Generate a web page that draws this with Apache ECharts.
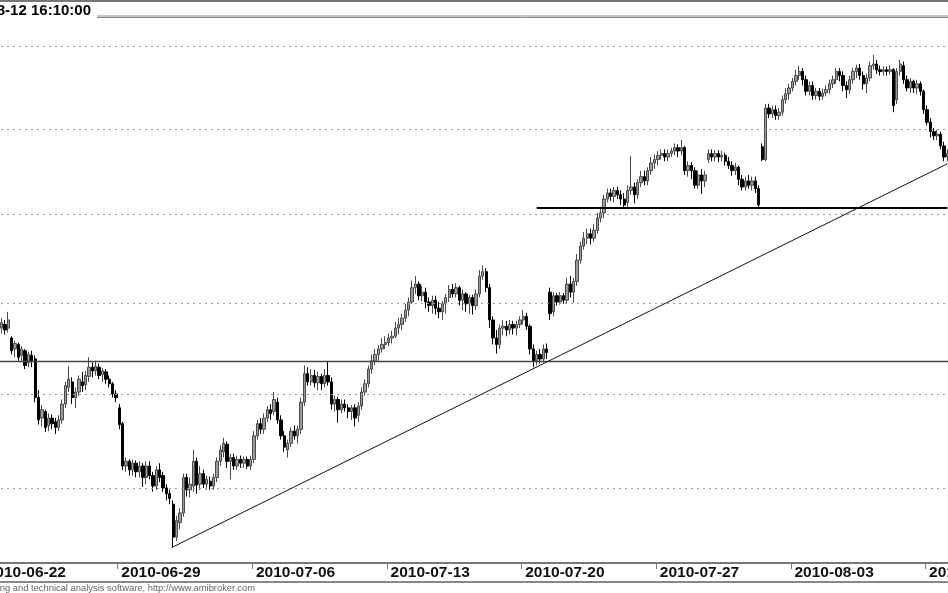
<!DOCTYPE html>
<html><head><meta charset="utf-8">
<script src="https://cdn.jsdelivr.net/npm/echarts@6/dist/echarts.min.js"></script>
<style>html,body{margin:0;padding:0;background:#fff}#c{width:948px;height:593px}</style>
</head><body><div id="c"></div>
<script>
const tradingDays = ['2010-06-22','2010-06-23','2010-06-24','2010-06-25','2010-06-28',
  '2010-06-29','2010-06-30','2010-07-01','2010-07-02','2010-07-05',
  '2010-07-06','2010-07-07','2010-07-08','2010-07-09','2010-07-12',
  '2010-07-13','2010-07-14','2010-07-15','2010-07-16','2010-07-19',
  '2010-07-20','2010-07-21','2010-07-22','2010-07-23','2010-07-26',
  '2010-07-27','2010-07-28','2010-07-29','2010-07-30','2010-08-02',
  '2010-08-03','2010-08-04','2010-08-05','2010-08-06','2010-08-09',
  '2010-08-10'];
const barHours = ['09:00','10:00','11:00','12:00','13:00','14:00','15:00','16:00'];
const tickDates = ['2010-06-22','2010-06-29','2010-07-06','2010-07-13','2010-07-20','2010-07-27','2010-08-03','2010-08-10'];
const gridLevels = [30, 31, 32, 33, 34, 35];
const supportLevel = 31.35;
const resistanceLevel = 33.08;
const resistanceStartIndex = 164;
const trendStart = [56, 29.39];
const trendEnd = [286, 33.59];
const titleText = '2010-08-12 16:10:00';
const footerText = 'AmiBroker - charting and technical analysis software, http://www.amibroker.com';

const opens = [null,null,null,null,null,
31.72,31.76,31.72,31.61,31.49,
31.54,31.42,31.47,31.34,31.42,31.38,30.96,30.74,30.81,30.66,
30.74,30.70,30.64,30.72,30.89,31.07,31.13,30.96,31.02,31.13,
31.10,31.19,31.29,31.25,31.29,31.21,31.24,31.16,31.11,31.00,
30.85,30.68,30.23,30.28,30.19,30.26,30.17,30.23,30.11,30.23,
30.13,30.02,30.19,30.13,30.00,29.94,29.83,29.49,29.64,29.74,
30.11,29.98,30.02,30.28,30.04,30.15,30.04,30.07,30.02,30.11,
30.28,30.38,30.46,30.28,30.32,30.23,30.30,30.26,30.30,30.23,
30.30,30.55,30.68,30.62,30.74,30.83,30.81,30.91,30.72,30.55,
30.40,30.47,30.60,30.55,30.62,30.91,31.22,31.13,31.20,31.12,
31.19,31.11,31.20,31.13,30.89,30.94,30.83,30.89,30.85,30.81,
30.85,30.77,30.87,31.02,31.11,31.27,31.36,31.43,31.49,31.54,
31.56,31.61,31.63,31.72,31.76,31.83,31.92,32.01,32.17,32.21,
32.08,32.12,32.01,31.97,32.03,31.94,31.90,31.99,32.06,32.15,
32.10,32.17,32.03,32.10,31.99,32.06,31.97,32.10,32.30,32.35,
32.17,31.81,31.61,31.54,31.72,31.74,31.70,31.76,31.72,31.76,
31.81,31.85,31.74,31.49,31.36,31.43,31.38,31.49,32.12,31.90,
32.08,32.01,32.08,32.03,32.21,32.12,32.24,32.48,32.64,32.73,
32.78,32.73,32.82,32.96,33.02,33.18,33.25,33.21,33.28,33.23,
33.18,33.14,33.28,33.32,33.23,33.37,33.44,33.39,33.51,33.60,
33.64,33.69,33.71,33.67,33.71,33.74,33.78,33.74,33.78,33.51,
33.57,33.51,33.34,33.46,33.39,33.64,33.71,33.67,33.71,33.67,
33.69,33.62,33.57,33.51,33.55,33.41,33.32,33.39,33.34,33.39,
33.30,33.79,33.64,34.25,34.18,34.23,34.16,34.20,34.35,34.42,
34.49,34.57,34.64,34.69,34.59,34.45,34.52,34.40,34.45,34.39,
34.43,34.47,34.54,34.59,34.69,34.64,34.52,34.47,34.59,34.69,
34.73,34.64,34.54,34.61,34.76,34.78,34.71,34.69,34.71,34.69,
34.71,34.35,34.69,34.76,34.59,34.49,34.57,34.49,34.54,34.45,
34.23,34.08,33.97,33.92,33.94,33.80,33.67];

const closes = [null,null,null,null,null,
31.78,31.70,31.81,31.47,31.55,
31.40,31.49,31.31,31.43,31.36,30.96,30.72,30.83,30.64,30.74,
30.68,30.64,30.72,30.89,31.09,31.16,30.96,31.02,31.16,31.09,
31.20,31.29,31.25,31.30,31.20,31.25,31.16,31.11,31.00,30.96,
30.67,30.23,30.28,30.19,30.26,30.17,30.23,30.11,30.23,30.13,
30.02,30.19,30.11,30.00,29.94,29.89,29.49,29.66,29.74,30.11,
29.98,30.04,30.28,30.03,30.15,30.04,30.09,30.02,30.11,30.28,
30.40,30.47,30.28,30.32,30.23,30.30,30.26,30.30,30.23,30.30,
30.55,30.68,30.62,30.74,30.83,30.79,30.94,30.72,30.55,30.43,
30.47,30.60,30.55,30.62,30.91,31.22,31.13,31.20,31.12,31.19,
31.11,31.20,31.13,30.89,30.94,30.83,30.89,30.85,30.81,30.85,
30.74,30.87,31.02,31.11,31.27,31.36,31.43,31.49,31.54,31.56,
31.61,31.63,31.72,31.76,31.83,31.92,32.01,32.17,32.21,32.08,
32.12,32.01,31.97,32.03,31.94,31.90,31.99,32.06,32.15,32.10,
32.17,32.03,32.10,31.99,32.06,31.97,32.10,32.30,32.35,32.17,
31.81,31.61,31.54,31.72,31.74,31.70,31.76,31.72,31.76,31.81,
31.85,31.74,31.49,31.36,31.43,31.38,31.49,31.45,31.88,32.08,
32.01,32.08,32.03,32.21,32.12,32.24,32.48,32.64,32.73,32.78,
32.73,32.82,32.96,33.02,33.18,33.25,33.21,33.28,33.23,33.18,
33.11,33.28,33.32,33.23,33.37,33.44,33.39,33.51,33.60,33.64,
33.69,33.71,33.67,33.71,33.74,33.78,33.74,33.78,33.51,33.57,
33.51,33.34,33.46,33.39,33.46,33.71,33.67,33.71,33.67,33.69,
33.62,33.57,33.51,33.55,33.41,33.32,33.39,33.34,33.39,33.30,
33.11,33.64,34.25,34.18,34.23,34.16,34.20,34.35,34.42,34.49,
34.57,34.64,34.69,34.59,34.45,34.52,34.40,34.45,34.39,34.43,
34.47,34.54,34.59,34.69,34.64,34.52,34.47,34.59,34.69,34.73,
34.64,34.54,34.61,34.76,34.78,34.71,34.69,34.71,34.69,34.71,
34.28,34.69,34.78,34.59,34.49,34.57,34.49,34.54,34.45,34.23,
34.08,33.97,33.92,33.94,33.80,33.67,33.71];

const lows = [null,null,null,null,null,
31.66,31.65,31.67,31.43,31.40,
31.36,31.36,31.27,31.29,31.29,30.91,30.67,30.65,30.59,30.60,
30.62,30.57,30.60,30.68,30.85,31.02,30.89,30.85,30.98,31.02,
31.04,31.13,31.18,31.20,31.16,31.13,31.11,31.07,30.96,30.91,
30.62,30.19,30.17,30.13,30.13,30.11,30.11,30.01,30.04,30.09,
29.96,29.98,30.06,29.96,29.87,29.83,29.38,29.45,29.57,29.70,
29.91,29.90,29.96,29.94,29.98,30.00,29.98,29.98,29.98,30.06,
30.23,30.32,30.21,30.09,30.19,30.19,30.21,30.21,30.20,30.19,
30.26,30.51,30.57,30.57,30.70,30.72,30.77,30.68,30.51,30.38,
30.32,30.43,30.51,30.47,30.57,30.87,31.09,31.09,31.07,31.04,
31.04,31.07,31.09,30.83,30.81,30.69,30.79,30.81,30.74,30.72,
30.65,30.70,30.83,30.98,31.07,31.22,31.31,31.36,31.45,31.49,
31.52,31.55,31.61,31.65,31.70,31.79,31.85,31.99,32.10,32.03,
32.02,31.94,31.90,31.88,31.87,31.83,31.81,31.88,32.01,32.06,
32.06,31.97,31.92,31.90,31.88,31.87,31.92,32.06,32.26,32.12,
31.72,31.54,31.44,31.49,31.64,31.63,31.65,31.65,31.64,31.72,
31.76,31.70,31.43,31.29,31.31,31.33,31.34,31.38,31.81,31.85,
31.97,31.98,31.99,31.99,32.06,32.00,32.19,32.44,32.60,32.66,
32.66,32.69,32.78,32.91,32.96,33.14,33.16,33.14,33.18,33.11,
33.07,33.09,33.23,33.13,33.18,33.32,33.34,33.34,33.46,33.53,
33.57,33.64,33.62,33.62,33.67,33.69,33.67,33.69,33.46,33.44,
33.41,33.30,33.30,33.24,33.32,33.60,33.62,33.62,33.61,33.62,
33.57,33.53,33.45,33.46,33.34,33.28,33.28,33.30,33.28,33.25,
33.08,33.62,33.62,34.13,34.13,34.11,34.11,34.16,34.30,34.35,
34.45,34.52,34.59,34.52,34.40,34.40,34.35,34.35,34.34,34.35,
34.39,34.42,34.49,34.54,34.57,34.45,34.37,34.42,34.54,34.61,
34.59,34.47,34.43,34.57,34.71,34.66,34.64,34.64,34.64,34.65,
34.20,34.30,34.64,34.54,34.45,34.43,34.43,34.42,34.40,34.18,
34.04,33.90,33.87,33.87,33.76,33.62,33.62];

const highs = [null,null,null,null,null,
31.83,31.81,31.90,31.63,31.58,
31.56,31.52,31.49,31.46,31.47,31.42,31.04,30.88,30.83,30.79,
30.78,30.74,30.77,30.94,31.13,31.30,31.18,31.07,31.20,31.24,
31.25,31.40,31.34,31.36,31.33,31.28,31.27,31.20,31.13,31.04,
30.89,30.70,30.32,30.30,30.30,30.29,30.28,30.26,30.28,30.28,
30.17,30.23,30.26,30.17,30.04,29.98,29.87,29.71,29.79,30.15,
30.15,30.11,30.40,30.32,30.23,30.19,30.13,30.12,30.15,30.32,
30.45,30.53,30.49,30.36,30.36,30.34,30.34,30.33,30.33,30.34,
30.60,30.72,30.74,30.79,30.87,30.89,31.02,30.96,30.77,30.60,
30.51,30.64,30.66,30.66,30.96,31.31,31.29,31.27,31.26,31.24,
31.22,31.27,31.35,31.18,30.98,30.97,30.94,30.94,30.89,30.88,
30.89,30.91,31.07,31.16,31.31,31.43,31.49,31.53,31.61,31.63,
31.66,31.69,31.79,31.83,31.88,31.99,32.06,32.25,32.30,32.24,
32.19,32.17,32.06,32.08,32.08,32.01,32.02,32.10,32.20,32.21,
32.22,32.19,32.15,32.12,32.09,32.09,32.15,32.37,32.42,32.39,
32.21,31.85,31.70,31.76,31.81,31.80,31.81,31.80,31.80,31.85,
31.92,31.89,31.76,31.54,31.47,31.49,31.54,31.55,32.17,32.12,
32.11,32.12,32.11,32.28,32.30,32.28,32.55,32.69,32.80,32.84,
32.84,32.89,33.02,33.09,33.23,33.30,33.30,33.32,33.32,33.28,
33.25,33.34,33.68,33.37,33.41,33.51,33.51,33.55,33.67,33.70,
33.74,33.76,33.76,33.76,33.78,33.83,33.82,33.87,33.80,33.62,
33.61,33.55,33.51,33.53,33.51,33.76,33.76,33.75,33.75,33.74,
33.72,33.67,33.62,33.60,33.57,33.46,33.44,33.46,33.44,33.44,
33.34,33.83,34.30,34.30,34.28,34.28,34.25,34.40,34.49,34.54,
34.61,34.71,34.76,34.73,34.64,34.57,34.57,34.49,34.49,34.48,
34.52,34.59,34.64,34.73,34.73,34.69,34.57,34.64,34.73,34.77,
34.78,34.69,34.66,34.81,34.89,34.83,34.76,34.75,34.75,34.76,
34.73,34.73,34.83,34.81,34.64,34.61,34.59,34.59,34.57,34.47,
34.28,34.13,34.01,33.99,33.97,33.85,33.76];

const categories = [];
tradingDays.forEach(d => barHours.forEach(h => categories.push(d + ' ' + h)));
categories.length = opens.length;
const candles = opens.map((o, i) => o == null ? '-' : [o, closes[i], lows[i], highs[i]]);

const isTick = (idx, val) => val.slice(11) === barHours[0] && tickDates.indexOf(val.slice(0, 10)) >= 0;
const FONT = 'Liberation Sans, Arial, Helvetica, sans-serif';

const markData = gridLevels.map(v => ({
  yAxis: v, lineStyle: { type: [2, 4], color: '#999', width: 1 }
}));
markData.push({ yAxis: supportLevel, lineStyle: { type: 'solid', color: '#444', width: 1.3 } });
markData.push([
  { coord: [categories[resistanceStartIndex], resistanceLevel], lineStyle: { type: 'solid', color: '#000', width: 2 } },
  { coord: [categories[categories.length - 1], resistanceLevel] }
]);
markData.push([
  { coord: [categories[trendStart[0]], trendStart[1]], lineStyle: { type: 'solid', color: '#111', width: 1 } },
  { coord: [categories[trendEnd[0]], trendEnd[1]] }
]);

const chart = echarts.init(document.getElementById('c'), null, { renderer: 'canvas' });
chart.setOption({
  animation: false,
  backgroundColor: '#fff',
  grid: { left: -17, right: -1, top: 2, bottom: 30, containLabel: false, outerBoundsMode: 'none' },
  xAxis: {
    type: 'category',
    data: categories,
    boundaryGap: true,
    axisLine: { show: true, lineStyle: { color: '#777', width: 2 } },
    axisTick: { show: true, interval: isTick, length: 6, lineStyle: { color: '#777', width: 1 } },
    axisLabel: {
      show: true, interval: isTick, formatter: v => v.slice(0, 10),
      align: 'left', margin: 2, padding: [0, 0, 0, 2], hideOverlap: false,
      fontSize: 15.5, fontWeight: 'bold', fontFamily: FONT, color: '#111'
    },
    splitLine: { show: false }
  },
  yAxis: { type: 'log', min: 29.225, max: 35.54, show: false },
  series: [{
    type: 'candlestick',
    data: candles,
    barWidth: 2.8,
    itemStyle: {
      color: '#9a9a9a', borderColor: '#4a4a4a',
      color0: '#000', borderColor0: '#000', borderWidth: 1
    },
    markLine: {
      silent: true, symbol: ['none', 'none'], animation: false,
      label: { show: false },
      emphasis: { disabled: true },
      data: markData
    }
  }],
  graphic: [
    { type: 'rect', shape: { x: 0, y: 0, width: 948, height: 2 }, style: { fill: '#777' }, silent: true },
    { type: 'rect', shape: { x: 97, y: 15, width: 851, height: 2 }, style: { fill: '#c8c8c8' }, silent: true },
    { type: 'line', shape: { x1: 97, y1: 17.5, x2: 948, y2: 17.5 }, style: { stroke: '#888', lineWidth: 1 }, silent: true },
    { type: 'text', x: 91, y: 3, style: { text: titleText, align: 'right', verticalAlign: 'top', fontSize: 15, fontWeight: 'bold', fontFamily: FONT, fill: '#000' }, silent: true },
    { type: 'rect', shape: { x: 0, y: 581, width: 948, height: 2 }, style: { fill: '#888' }, silent: true },
    { type: 'text', x: 255, y: 588, style: { text: footerText, align: 'right', verticalAlign: 'middle', fontSize: 9.4, fontFamily: FONT, fill: '#666' }, silent: true }
  ]
});
</script></body></html>
